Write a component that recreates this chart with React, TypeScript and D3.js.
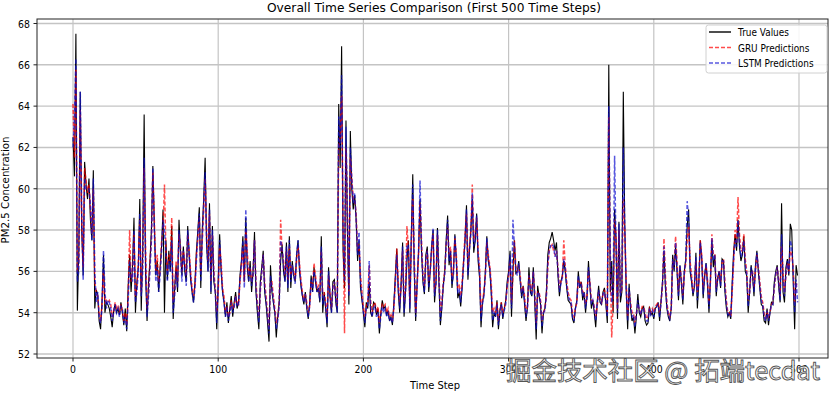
import React from 'react';
import * as d3 from 'd3';

// PM2.5 series, one value per time step (0..499)
const trueValues = [
  62.5, 60.6, 67.5, 54.1, 57.0, 64.7, 58.0, 55.8, 61.3, 60.2,
  59.5, 60.5, 58.5, 57.5, 60.9, 54.2, 55.1, 54.9, 53.6, 53.2,
  54.6, 56.8, 54.0, 54.5, 54.4, 54.2, 53.8, 53.3, 54.1, 54.4,
  54.0, 54.2, 53.9, 54.5, 54.0, 53.4, 54.2, 53.1, 55.3, 56.8,
  55.0, 56.3, 58.6, 54.0, 55.5, 56.2, 59.5, 54.1, 57.0, 63.6,
  55.8, 53.6, 55.4, 56.5, 58.0, 61.1, 58.3, 55.8, 56.5, 55.0,
  56.2, 57.2, 59.0, 54.0, 57.5, 55.6, 57.0, 56.0, 58.2, 53.7,
  55.2, 56.3, 55.0, 58.5, 57.0, 55.8, 57.2, 56.0, 55.5, 58.2,
  56.8, 55.6, 55.0, 54.5, 55.5, 57.0, 58.0, 59.1, 55.2, 58.0,
  59.5, 61.5, 57.3, 56.0, 59.3, 54.9, 58.2, 55.5, 55.0, 53.2,
  55.5, 57.8, 56.0, 55.0, 54.5, 53.8, 54.5, 53.5, 54.2, 54.8,
  53.8, 54.5, 55.0, 54.2, 54.5, 55.8, 56.5, 57.7, 55.5, 58.6,
  56.2, 55.5, 56.5, 55.0, 56.0, 57.9, 55.0, 54.0, 53.2, 55.5,
  56.2, 57.0, 55.0, 54.4, 53.5, 52.6, 56.3, 55.0, 54.5, 54.0,
  52.8, 53.8, 54.5, 56.5, 57.3, 56.0, 55.5, 57.4, 55.0, 57.7,
  55.2, 56.5, 55.8, 55.5, 56.8, 57.5, 56.0, 55.3, 54.8, 54.4,
  55.0, 54.2, 53.7, 54.5, 55.8, 55.0, 56.2, 55.5, 55.0, 55.2,
  54.5, 57.7, 54.0, 55.0, 54.2, 53.3, 56.2, 54.8, 54.0, 55.5,
  55.6, 54.5, 54.0, 64.1, 61.0, 66.9, 57.0, 55.2, 63.3, 58.0,
  54.4, 62.8, 60.0, 59.0, 59.7, 58.5, 56.5, 57.5, 55.2, 54.6,
  54.0, 53.3, 54.5, 54.2, 55.5, 54.0, 53.8, 54.5, 54.4, 53.9,
  54.2, 53.0, 54.0, 54.6, 54.2, 54.3, 53.9, 54.1, 53.6, 53.8,
  53.4, 54.5, 55.8, 57.1, 55.0, 54.0, 55.5, 57.4, 53.8, 55.0,
  56.5, 57.5, 54.0, 57.8, 60.7, 56.0, 53.6, 55.5, 57.0, 59.5,
  57.0, 55.5, 54.9, 56.8, 57.2, 55.0, 56.0, 57.2, 58.0, 54.5,
  55.5, 58.1, 55.5, 53.4, 54.2, 55.3, 56.0, 57.5, 58.7, 56.3,
  57.0, 55.2, 56.0, 57.8, 56.5, 54.7, 55.0, 54.3, 55.2, 56.5,
  57.5, 59.2, 55.6, 57.0, 58.0, 59.5, 56.9, 57.5, 58.8, 56.5,
  55.7, 53.3, 54.5, 54.9, 56.0, 57.7, 56.5, 56.1, 55.0, 53.3,
  54.0, 53.8, 54.6, 53.2, 54.1, 54.5, 53.7, 54.2, 54.6, 55.5,
  56.0, 57.0, 53.8, 56.0, 57.5, 55.9, 56.0, 56.5, 55.5, 54.7,
  55.3, 54.4, 53.6, 54.3, 56.2, 55.0, 54.8, 56.2, 54.5, 52.7,
  55.3, 54.8, 54.4, 53.0, 54.0, 54.2, 55.0, 56.8, 57.4, 57.6,
  57.9, 57.5, 57.0, 57.4, 55.8, 54.8, 55.5, 55.8, 56.5, 56.0,
  55.2, 54.6, 54.5, 54.4, 53.7, 53.5, 54.2, 54.6, 56.0, 55.2,
  55.5, 54.6, 55.0, 54.0, 54.8, 56.5, 55.3, 54.2, 54.6, 54.0,
  53.3, 54.5, 55.3, 54.5, 54.4, 55.0, 55.2, 54.4, 53.5, 66.0,
  55.0, 56.5, 54.0, 59.0, 57.5, 53.7, 58.4, 54.5, 55.0, 64.7,
  58.2, 55.0, 53.2, 55.4, 54.2, 53.6, 53.8, 53.0, 53.8, 54.9,
  54.0, 53.8, 54.2, 54.3, 53.6, 53.4, 53.5, 54.3, 53.9, 54.0,
  53.7, 54.2, 54.3, 54.5, 53.6, 54.6, 55.5, 57.0, 55.2, 54.2,
  53.8, 53.6, 54.2, 56.8, 56.0, 57.2, 56.0, 54.6, 56.3, 55.4,
  54.4, 56.0, 56.6, 58.2, 59.0, 56.0, 55.5, 54.8, 55.3, 56.9,
  54.2, 55.5, 57.5, 56.6, 54.7, 55.8, 56.4, 55.3, 54.0, 55.6,
  57.5, 56.2, 56.8, 54.8, 55.7, 56.0, 55.2, 56.6, 56.5, 55.0,
  54.2, 53.8, 54.0, 53.7, 55.5, 57.0, 57.8, 57.0, 58.5, 57.2,
  56.5, 56.8, 57.7, 56.0, 55.8, 54.0, 55.0, 56.3, 55.8, 54.8,
  56.3, 57.0, 56.0, 55.2, 54.4, 54.3, 53.6, 53.5, 54.2, 53.4,
  54.0, 54.5, 54.4, 55.5, 56.0, 56.3, 55.3, 54.5, 59.3, 55.0,
  54.5, 56.2, 56.6, 55.8, 58.3, 58.0, 55.5, 53.2, 56.3, 55.8,
];

const gruValues = [
  64.1, 61.5, 65.8, 56.0, 56.5, 63.8, 58.5, 56.2, 61.0, 60.4,
  59.8, 60.2, 59.0, 57.8, 60.0, 55.5, 55.0, 54.8, 54.0, 53.6,
  54.4, 56.0, 54.5, 54.6, 54.5, 54.6, 54.4, 53.8, 54.0, 54.5,
  54.2, 54.3, 54.0, 54.4, 54.1, 53.6, 54.0, 53.4, 54.8, 58.0,
  55.5, 56.0, 57.8, 54.8, 55.2, 56.5, 58.5, 55.0, 56.5, 61.0,
  57.0, 54.2, 55.0, 56.5, 57.5, 60.8, 58.5, 56.0, 56.8, 55.5,
  56.0, 57.5, 58.0, 60.2, 57.0, 56.0, 56.8, 56.5, 58.6, 54.5,
  55.0, 56.5, 55.5, 57.8, 57.2, 56.0, 57.0, 56.5, 55.8, 57.8,
  57.0, 56.0, 55.2, 54.8, 55.3, 56.8, 57.6, 58.6, 56.0, 57.5,
  59.0, 60.5, 58.0, 56.5, 58.8, 55.5, 57.8, 56.0, 55.2, 54.0,
  55.0, 57.2, 56.5, 55.2, 54.8, 54.0, 54.3, 53.8, 54.0, 54.6,
  54.2, 54.3, 54.8, 54.5, 54.4, 55.5, 56.3, 57.2, 55.5, 58.0,
  57.0, 55.8, 56.2, 55.5, 55.8, 57.5, 55.5, 54.5, 53.8, 55.0,
  56.0, 56.8, 55.5, 54.8, 54.0, 53.3, 55.5, 55.5, 54.8, 54.2,
  53.5, 53.8, 54.5, 58.5, 57.0, 56.5, 55.8, 57.0, 55.6, 57.2,
  55.8, 56.2, 56.0, 55.6, 56.5, 57.2, 56.4, 55.6, 55.0, 54.6,
  54.9, 54.5, 54.0, 54.3, 55.5, 55.3, 56.4, 55.8, 55.2, 55.3,
  54.8, 57.0, 54.8, 55.0, 54.5, 53.8, 55.8, 55.0, 54.2, 55.2,
  55.5, 54.8, 54.3, 62.0, 62.5, 64.5, 58.5, 53.0, 62.0, 59.0,
  55.0, 61.5, 60.5, 59.5, 59.5, 58.8, 57.0, 57.3, 55.8, 55.0,
  54.3, 53.8, 54.3, 54.5, 56.3, 54.5, 54.0, 54.4, 54.5, 54.0,
  54.3, 53.5, 54.0, 54.4, 54.3, 54.4, 54.0, 54.2, 53.8, 53.9,
  53.6, 54.2, 55.5, 57.1, 55.5, 54.5, 55.2, 57.0, 54.5, 55.2,
  58.2, 57.0, 54.5, 57.2, 59.5, 56.8, 54.0, 55.3, 56.8, 59.3,
  57.5, 55.8, 55.3, 56.5, 57.0, 55.5, 56.0, 57.0, 57.8, 55.0,
  55.5, 57.8, 56.0, 54.0, 54.5, 55.4, 56.0, 57.2, 58.2, 56.8,
  57.2, 55.7, 56.0, 57.6, 56.8, 55.2, 55.3, 54.8, 55.5, 56.5,
  57.8, 58.8, 56.2, 57.2, 58.0, 60.2, 57.5, 57.8, 58.6, 57.0,
  56.2, 54.0, 54.6, 55.0, 55.8, 57.4, 56.8, 56.3, 55.5, 54.0,
  54.2, 54.0, 54.5, 53.6, 54.0, 54.5, 54.0, 54.2, 54.5, 55.2,
  55.8, 56.5, 54.5, 55.8, 57.5, 56.2, 56.0, 56.3, 55.8, 55.0,
  55.3, 54.8, 54.0, 54.3, 55.8, 55.3, 55.0, 56.0, 55.0, 53.5,
  55.0, 55.0, 54.6, 53.6, 54.0, 54.2, 54.8, 56.2, 57.0, 57.2,
  57.3, 57.0, 56.8, 57.0, 56.2, 55.2, 55.5, 55.7, 57.5, 56.3,
  55.5, 55.0, 54.7, 54.6, 54.0, 53.8, 54.2, 54.5, 55.6, 55.4,
  55.5, 55.0, 55.0, 54.4, 54.8, 56.0, 55.5, 54.6, 54.6, 54.3,
  53.8, 54.3, 55.0, 54.7, 54.5, 54.9, 55.1, 54.6, 54.0, 63.5,
  56.5, 52.8, 54.5, 58.5, 57.8, 54.2, 58.0, 55.0, 55.0, 59.5,
  58.0, 55.5, 53.8, 55.0, 54.5, 54.0, 54.0, 53.5, 54.0, 54.3,
  54.2, 54.0, 54.3, 54.3, 54.0, 53.7, 53.8, 54.2, 54.0, 54.2,
  54.0, 54.3, 54.4, 54.5, 54.0, 54.5, 55.3, 57.6, 55.8, 54.5,
  54.0, 53.8, 54.2, 56.5, 56.3, 57.7, 56.5, 55.0, 56.2, 55.7,
  54.8, 55.8, 56.4, 57.5, 58.2, 56.5, 55.8, 55.0, 55.3, 56.5,
  55.0, 55.4, 57.5, 56.8, 55.2, 55.7, 56.3, 55.6, 54.5, 55.5,
  57.8, 56.8, 56.8, 55.2, 55.6, 56.0, 55.5, 56.4, 56.6, 55.5,
  54.6, 54.0, 54.0, 53.8, 55.0, 56.5, 58.0, 57.4, 59.6, 57.8,
  57.0, 57.0, 57.8, 56.6, 56.0, 54.6, 55.0, 56.0, 56.0, 55.2,
  56.0, 56.8, 56.2, 55.5, 54.8, 54.5, 54.0, 53.7, 54.0, 53.8,
  54.0, 54.4, 54.5, 55.2, 55.8, 56.2, 55.6, 54.8, 57.2, 56.0,
  55.0, 55.8, 56.4, 56.0, 57.0, 56.8, 56.2, 54.5, 55.3, 55.5,
];

const lstmValues = [
  62.0, 63.5, 66.3, 55.5, 56.0, 64.7, 58.8, 55.6, 60.5, 60.0,
  60.0, 60.0, 59.2, 57.5, 60.5, 56.0, 54.5, 55.0, 53.8, 53.5,
  54.2, 57.0, 55.0, 54.2, 54.6, 54.5, 54.2, 53.6, 54.0, 54.4,
  54.0, 54.2, 53.8, 54.3, 54.2, 53.5, 53.8, 53.2, 54.5, 56.5,
  55.8, 55.5, 58.0, 54.5, 55.0, 56.0, 58.8, 54.8, 56.0, 61.5,
  56.5, 53.8, 54.8, 56.0, 57.5, 61.0, 58.0, 55.5, 56.2, 55.0,
  55.8, 57.0, 58.5, 58.0, 56.8, 55.5, 56.5, 56.0, 57.5, 54.0,
  54.8, 56.0, 55.2, 58.0, 57.0, 55.5, 57.0, 56.2, 55.3, 58.0,
  56.8, 55.8, 55.0, 54.5, 55.2, 56.5, 57.8, 58.8, 55.5, 57.5,
  59.2, 60.8, 57.5, 56.0, 59.0, 55.0, 58.0, 55.8, 55.0, 53.5,
  55.2, 57.5, 56.2, 55.0, 54.5, 53.8, 54.3, 53.6, 54.0, 54.5,
  54.0, 54.3, 54.8, 54.3, 54.4, 55.6, 56.3, 57.5, 55.2, 59.0,
  56.5, 55.5, 56.2, 55.3, 55.8, 57.5, 55.2, 54.2, 53.5, 55.2,
  56.0, 56.8, 55.2, 54.5, 53.8, 53.0, 55.8, 55.2, 54.6, 54.0,
  53.2, 53.6, 54.3, 57.5, 57.2, 56.2, 55.5, 57.2, 55.2, 57.5,
  55.5, 56.3, 55.8, 55.4, 56.8, 57.5, 56.2, 55.4, 54.8, 54.5,
  54.9, 54.3, 53.8, 54.3, 55.6, 55.0, 56.0, 55.6, 55.0, 55.2,
  54.6, 57.2, 54.4, 54.8, 54.3, 53.5, 56.0, 54.8, 54.0, 55.3,
  55.5, 54.6, 54.0, 63.5, 62.0, 65.5, 58.0, 55.5, 63.0, 58.5,
  54.8, 62.0, 60.5, 59.3, 59.8, 58.5, 56.8, 57.9, 55.5, 54.8,
  54.0, 53.5, 54.2, 54.3, 56.5, 54.2, 53.8, 54.2, 54.3, 53.8,
  54.0, 53.2, 53.8, 54.3, 54.0, 54.2, 53.8, 54.0, 53.6, 53.8,
  53.5, 54.3, 55.5, 56.8, 55.2, 54.2, 55.3, 57.2, 54.0, 55.0,
  57.2, 57.3, 54.2, 57.5, 60.2, 56.5, 53.8, 55.2, 57.0, 60.4,
  57.2, 55.6, 55.0, 56.6, 57.0, 55.2, 56.0, 57.2, 58.1, 54.8,
  55.4, 58.0, 55.8, 53.6, 54.3, 55.3, 55.8, 57.3, 58.5, 56.5,
  57.0, 55.4, 55.8, 57.7, 56.6, 55.0, 55.1, 54.5, 55.3, 56.3,
  57.5, 59.0, 55.8, 57.0, 57.8, 59.8, 57.2, 57.5, 58.7, 56.8,
  56.0, 53.6, 54.4, 54.8, 55.8, 57.6, 56.6, 56.2, 55.2, 53.6,
  54.0, 53.8, 54.4, 53.4, 54.0, 54.4, 53.8, 54.1, 54.4, 55.3,
  55.8, 56.8, 54.2, 58.5, 57.2, 56.0, 55.8, 56.4, 55.6, 54.8,
  55.2, 54.6, 53.8, 54.2, 55.8, 55.2, 54.8, 56.0, 54.8, 53.2,
  55.0, 54.9, 54.5, 53.3, 54.0, 54.1, 54.8, 56.4, 57.0, 57.3,
  57.3, 57.2, 56.7, 57.0, 56.0, 55.0, 55.4, 55.7, 56.6, 56.2,
  55.3, 54.8, 54.6, 54.5, 53.8, 53.6, 54.2, 54.5, 55.8, 55.3,
  55.4, 54.8, 55.0, 54.2, 54.7, 56.2, 55.4, 54.4, 54.6, 54.2,
  53.6, 54.4, 55.1, 54.6, 54.4, 54.9, 55.0, 54.5, 53.8, 64.0,
  57.0, 54.5, 55.0, 61.6, 57.0, 54.0, 58.3, 54.8, 55.2, 62.0,
  58.2, 55.2, 53.6, 55.2, 54.3, 53.8, 53.9, 53.3, 53.9, 54.6,
  54.1, 53.9, 54.2, 54.2, 53.8, 53.6, 53.6, 54.2, 53.9, 54.1,
  53.8, 54.2, 54.3, 54.4, 53.8, 54.5, 55.4, 57.2, 55.4, 54.3,
  53.9, 53.7, 54.1, 56.6, 56.1, 57.4, 56.2, 54.8, 56.3, 55.5,
  54.6, 56.0, 56.5, 59.4, 58.5, 56.2, 55.6, 54.9, 55.3, 56.7,
  54.6, 55.5, 57.4, 56.7, 54.9, 55.7, 56.4, 55.4, 54.2, 55.5,
  57.6, 56.5, 56.8, 55.0, 55.6, 56.0, 55.3, 56.5, 56.5, 55.2,
  54.4, 53.9, 54.0, 53.8, 55.2, 56.6, 57.5, 57.2, 58.5, 57.4,
  56.7, 56.9, 57.5, 56.3, 55.9, 54.3, 55.0, 56.2, 55.9, 55.0,
  56.1, 56.9, 56.1, 55.3, 54.6, 54.4, 53.8, 53.6, 54.1, 53.6,
  54.0, 54.4, 54.4, 55.3, 55.9, 56.2, 55.4, 54.6, 57.8, 55.6,
  54.8, 55.9, 56.5, 55.9, 57.5, 57.2, 56.0, 54.0, 55.6, 54.5,
];

const xTicks = [0, 100, 200, 300, 400, 500];
const yTicks = [52, 54, 56, 58, 60, 62, 64, 66, 68];

const legendItems = [
  { label: 'True Values', color: '#000', dash: null },
  { label: 'GRU Predictions', color: 'red', dash: '4,2' },
  { label: 'LSTM Predictions', color: 'blue', dash: '4,2' },
];

const W = 835;
const H = 394;
const frame = { left: 37, right: 828, top: 19, bottom: 358 };
const font = '"DejaVu Sans", sans-serif';

export default function App() {
  const x = d3.scaleLinear().domain([0, 500]).range([73, 799]);
  const y = d3.scaleLinear().domain([52, 68]).range([354, 23.5]);

  const line = d3.line<number>()
    .x((_, i) => x(i))
    .y(d => y(d));

  const squeeze = 0.85;

  return (
    <svg width={W} height={H} style={{ position: 'absolute', left: 0, top: 0, background: '#fff' }}
      fontFamily={font}>
      <defs>
        <clipPath id="plot">
          <rect x={frame.left} y={frame.top} width={frame.right - frame.left} height={frame.bottom - frame.top} />
        </clipPath>
      </defs>

      {/* grid */}
      {xTicks.map(t => (
        <line key={'gx' + t} x1={x(t)} x2={x(t)} y1={frame.top} y2={frame.bottom}
          stroke="#c4c4c4" strokeWidth={1.2} />
      ))}
      {yTicks.map(t => (
        <line key={'gy' + t} x1={frame.left} x2={frame.right} y1={y(t)} y2={y(t)}
          stroke="#c4c4c4" strokeWidth={1.4} />
      ))}

      {/* series */}
      <g clipPath="url(#plot)" fill="none">
        <path d={line(trueValues) || ''} stroke="#000" strokeWidth={1.1} />
        <path d={line(gruValues) || ''} stroke="red" strokeOpacity={0.7} strokeWidth={1.5} strokeDasharray="4,2" />
        <path d={line(lstmValues) || ''} stroke="#1010d0" strokeOpacity={0.7} strokeWidth={1.5} strokeDasharray="4,2" />
      </g>

      {/* frame */}
      <rect x={frame.left} y={frame.top} width={frame.right - frame.left} height={frame.bottom - frame.top}
        fill="none" stroke="#222" strokeWidth={1} />

      {/* ticks */}
      {xTicks.map(t => (
        <g key={'tx' + t}>
          <line x1={x(t)} x2={x(t)} y1={frame.bottom} y2={frame.bottom + 3.5} stroke="#222" />
          <text transform={`translate(${x(t)},373) scale(${squeeze},1)`} textAnchor="middle" fontSize={11}>{t}</text>
        </g>
      ))}
      {yTicks.map(t => (
        <g key={'ty' + t}>
          <line x1={frame.left - 3.5} x2={frame.left} y1={y(t)} y2={y(t)} stroke="#222" />
          <text transform={`translate(30,${y(t) + 4}) scale(${squeeze},1)`} textAnchor="end" fontSize={11}>{t}</text>
        </g>
      ))}

      {/* labels */}
      <text x={434} y={11.5} textAnchor="middle" fontSize={13} textLength={334} lengthAdjust="spacingAndGlyphs">
        Overall Time Series Comparison (First 500 Time Steps)
      </text>
      <text x={435} y={389} textAnchor="middle" fontSize={11} textLength={50} lengthAdjust="spacingAndGlyphs">Time Step</text>
      <text transform="translate(9,190) rotate(-90)" textAnchor="middle" fontSize={10.5}
        textLength={107} lengthAdjust="spacingAndGlyphs">PM2.5 Concentration</text>

      {/* legend */}
      <rect x={706} y={25} width={121} height={48} rx={2.5} fill="#fff" fillOpacity={0.85} stroke="#d0d0d0" />
      {legendItems.map((d, i) => (
        <g key={d.label} transform={`translate(0,${32 + i * 15.5})`}>
          <line x1={709} x2={731} y1={0} y2={0} stroke={d.color === 'blue' ? '#1010d0' : d.color}
            strokeWidth={1.4} strokeOpacity={d.dash ? 0.7 : 1} strokeDasharray={d.dash || undefined} />
          <text transform={`translate(738,4) scale(${squeeze},1)`} fontSize={10.5}>{d.label}</text>
        </g>
      ))}

      {/* watermark */}
      <text x={506} y={380} fontSize={25} fill="#fff" stroke="#555" strokeWidth={0.9}
        textLength={314} lengthAdjust="spacingAndGlyphs"
        fontFamily='"Noto Sans CJK SC", "DejaVu Sans", sans-serif'>掘金技术社区 @ 拓端tecdat</text>
    </svg>
  );
}
